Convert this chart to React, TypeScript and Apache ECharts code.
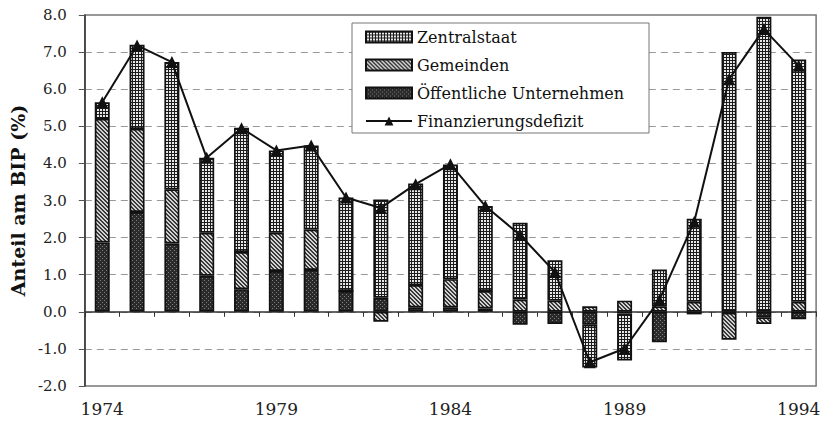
import React, { useEffect, useRef } from "react";
import * as echarts from "echarts";

const years = ["1974", "1975", "1976", "1977", "1978", "1979", "1980", "1981", "1982", "1983", "1984", "1985", "1986", "1987", "1988", "1989", "1990", "1991", "1992", "1993", "1994"];
const zentralstaat = [0.45, 2.27, 3.43, 2.02, 3.35, 2.22, 2.26, 2.52, 2.65, 2.74, 3.09, 2.29, 2.07, 1.09, -1.15, -1.26, 0.99, 2.24, 7.0, 7.95, 6.53];
const gemeinden = [3.33, 2.24, 1.46, 1.16, 1.0, 1.03, 1.09, 0, -0.27, 0.6, 0.76, 0.47, 0.33, 0.3, 0.15, 0.3, 0.15, 0.27, -0.72, -0.18, 0.27];
const oeffentliche = [1.87, 2.69, 1.84, 0.97, 0.61, 1.1, 1.13, 0.56, 0.38, 0.12, 0.12, 0.09, -0.35, -0.33, -0.35, -0.05, -0.82, -0.07, -0.03, -0.15, -0.2];
const defizit = [5.65, 7.18, 6.73, 4.15, 4.95, 4.35, 4.48, 3.08, 2.8, 3.44, 3.98, 2.85, 2.07, 1.07, -1.36, -0.99, 0.32, 2.43, 6.27, 7.62, 6.63];

const FONT = "'DejaVu Serif', 'Liberation Serif', serif";

function makeTile(w: number, h: number, draw: (ctx: CanvasRenderingContext2D) => void) {
  const c = document.createElement("canvas");
  c.width = w;
  c.height = h;
  const ctx = c.getContext("2d")!;
  draw(ctx);
  return { image: c, repeat: "repeat", imageWidth: w, imageHeight: h } as any;
}

export default function App() {
  const ref = useRef<HTMLDivElement>(null);
  useEffect(() => {
    if (!ref.current) return;
    const chart = echarts.init(ref.current, undefined, { renderer: "svg" });

    const patZ = makeTile(3, 3, (ctx) => {
      ctx.fillStyle = "#e8e8e8";
      ctx.fillRect(0, 0, 3, 3);
      ctx.fillStyle = "#1c1c1c";
      ctx.fillRect(0, 0, 3, 1);
      ctx.fillRect(0, 0, 1, 3);
    });
    const patG = makeTile(4, 4, (ctx) => {
      for (let x = 0; x < 4; x++) {
        for (let y = 0; y < 4; y++) {
          const d = (x - y + 8) % 4;
          ctx.fillStyle = d === 0 || d === 1 ? "#3a3a3a" : "#d2d2d2";
          ctx.fillRect(x, y, 1, 1);
        }
      }
    });
    const patO = makeTile(4, 4, (ctx) => {
      ctx.fillStyle = "#2a2a2a";
      ctx.fillRect(0, 0, 4, 4);
      ctx.fillStyle = "#7e7e7e";
      ctx.fillRect(0, 0, 1, 1);
      ctx.fillRect(2, 2, 1, 1);
    });

    const barBase = {
      type: "bar",
      stack: "total",
      barWidth: 15,
    };
    const border = { borderColor: "#111", borderWidth: 1.7 };

    chart.setOption({
      animation: false,
      backgroundColor: "#ffffff",
      grid: {
        left: 72,
        right: 6,
        top: 15,
        bottom: 38,
        show: true,
        borderColor: "#777",
        borderWidth: 1.5,
        backgroundColor: "transparent",
      },
      graphic: [
        {
          type: "rect",
          z: 3,
          shape: { x: 352, y: 23, width: 297, height: 110 },
          style: { fill: "#ffffff", stroke: "#777", lineWidth: 1 },
        },
      ],
      legend: {
        orient: "vertical",
        left: 365,
        top: 29,
        padding: 0,
        itemWidth: 46,
        itemHeight: 11,
        itemGap: 12,
        z: 5,
        textStyle: { fontFamily: FONT, fontSize: 16, color: "#111", lineHeight: 16 },
        data: [
          { name: "Zentralstaat", icon: "rect" },
          { name: "Gemeinden", icon: "rect" },
          { name: "Öffentliche Unternehmen", icon: "rect" },
          { name: "Finanzierungsdefizit" },
        ],
      },
      xAxis: {
        type: "category",
        data: years,
        boundaryGap: true,
        axisLine: { show: true, lineStyle: { color: "#333", width: 1.5 } },
        axisTick: { show: true, interval: 0, length: 5, lineStyle: { color: "#333" } },
        axisLabel: {
          interval: 4,
          fontFamily: FONT,
          fontSize: 17,
          color: "#222",
          margin: 14,
        },
        splitLine: { show: false },
      },
      yAxis: {
        type: "value",
        min: -2,
        max: 8,
        interval: 1,
        name: "Anteil am BIP (%)",
        nameLocation: "middle",
        nameRotate: 90,
        nameGap: 49,
        nameTextStyle: { fontFamily: FONT, fontSize: 19, fontWeight: "bold", color: "#111" },
        axisLine: { show: true, lineStyle: { color: "#333", width: 1.5 } },
        axisTick: { show: true, length: 6, lineStyle: { color: "#555" } },
        axisLabel: {
          fontFamily: FONT,
          fontSize: 15,
          color: "#222",
          margin: 18,
          formatter: (v: number) => v.toFixed(1),
        },
        splitLine: { show: true, lineStyle: { color: "#999", type: [7, 5], width: 1 } },
      },
      series: [
        {
          ...barBase,
          name: "Öffentliche Unternehmen",
          data: oeffentliche,
          itemStyle: { color: patO, ...border },
        },
        {
          ...barBase,
          name: "Gemeinden",
          data: gemeinden,
          itemStyle: { color: patG, ...border },
        },
        {
          ...barBase,
          name: "Zentralstaat",
          data: zentralstaat,
          itemStyle: { color: patZ, ...border },
        },
        {
          name: "Finanzierungsdefizit",
          type: "line",
          data: defizit,
          z: 6,
          symbol: "triangle",
          symbolSize: 12,
          lineStyle: { color: "#111", width: 2 },
          itemStyle: { color: "#111" },
        },
      ],
    } as any);
    return () => chart.dispose();
  }, []);
  return <div ref={ref} style={{ position: "fixed", left: 0, top: 0, width: 823, height: 424 }} />;
}
